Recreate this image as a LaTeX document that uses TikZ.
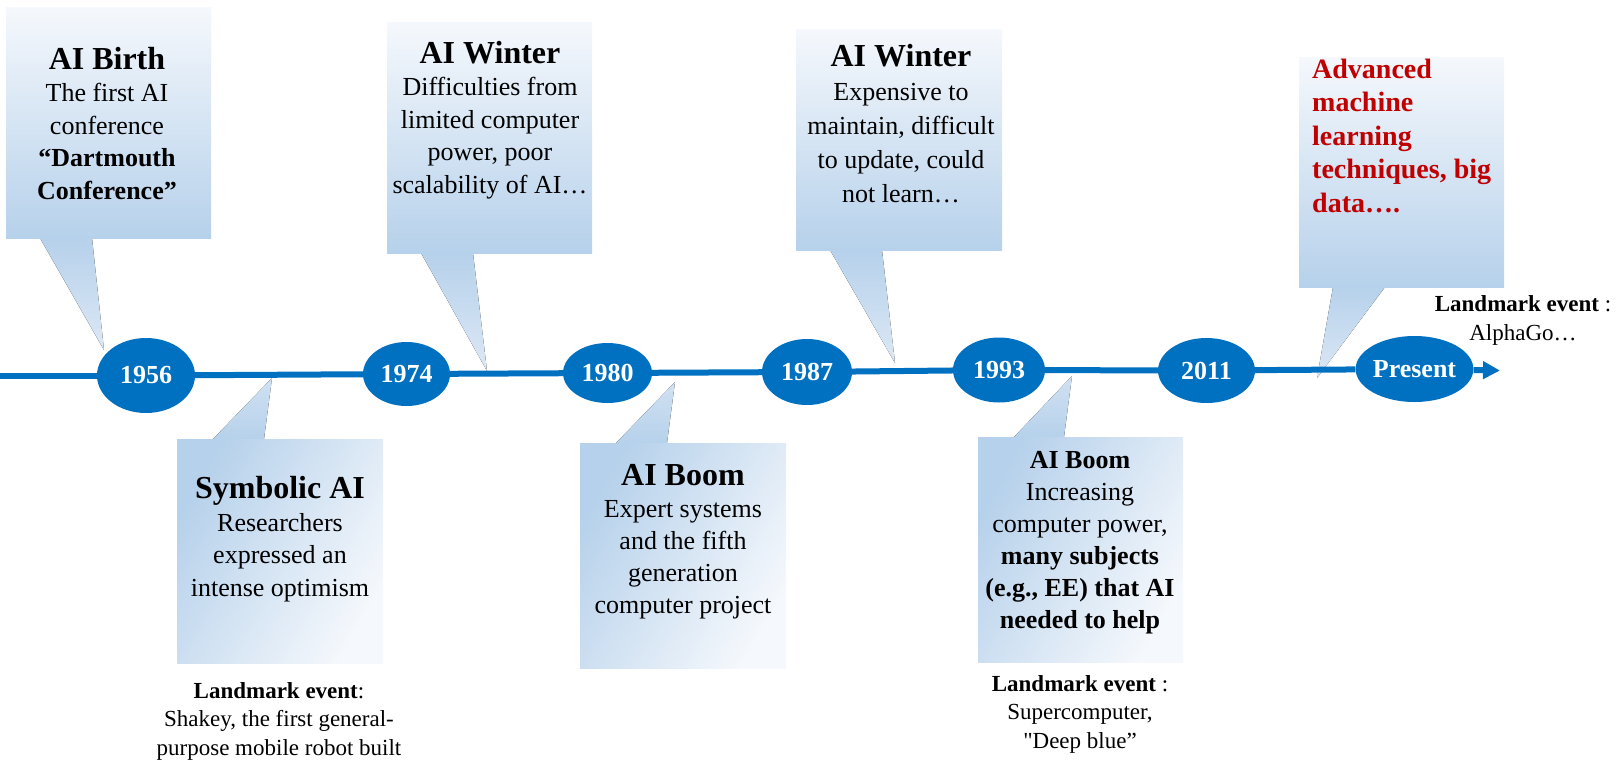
\documentclass[tikz,border=0pt]{standalone}
\usepackage{fontspec}
\setmainfont{Liberation Serif}[Ligatures=TeXOff]
\usetikzlibrary{shapes.geometric,arrows.meta}
\definecolor{tlblue}{HTML}{0070C0}
\definecolor{boxlight}{HTML}{F5F8FC}
\definecolor{boxblue}{HTML}{B6D1EB}
\definecolor{tiplight}{HTML}{DCE8F5}
\definecolor{advred}{HTML}{C00000}
\begin{document}
\begin{tikzpicture}[x=1pt,y=-1pt,
  year/.style={ellipse, fill=tlblue, inner sep=0pt, text=white,
    font=\fontsize{26}{30}\selectfont\bfseries},
  upbox/.style={top color=boxlight, bottom color=boxblue},
  uptail/.style={top color=boxblue, bottom color=tiplight},
  downbox/.style={top color=boxblue, bottom color=boxlight, shading angle=60},
  downtail/.style={top color=tiplight!70!boxblue, bottom color=boxblue},
  boxtext/.style={anchor=base, align=center, inner sep=0pt,
    font=\fontsize{26}{32.5}\selectfont},
  landmark/.style={anchor=base, align=center, inner sep=0pt,
    font=\fontsize{23}{28.5}\selectfont},
  tl/.style={line width=6pt, draw=tlblue}
]
\useasboundingbox (0,0) rectangle (1618,761);

% ---- callouts above the line ----
\fill[uptail] (40,238) -- (92,238) -- (104,350) -- cycle;
\fill[upbox] (6,7) rectangle (211,238);
\fill[uptail] (421,253) -- (473,253) -- (487,371) -- cycle;
\fill[upbox] (387,22) rectangle (592,253);
\fill[uptail] (830,250) -- (882,250) -- (895,363) -- cycle;
\fill[upbox] (796,29) rectangle (1002,250);
\fill[uptail] (1333,287) -- (1385,287) -- (1317,378) -- cycle;
\fill[upbox] (1299,57) rectangle (1504,287);

% ---- callouts below the line ----
\fill[downtail] (213,439) -- (264,439) -- (272,378) -- cycle;
\fill[downbox] (177,439) rectangle (383,663);
\fill[downtail] (616,443) -- (667,443) -- (675,382) -- cycle;
\fill[downbox] (580,443) rectangle (786,668);
\fill[downtail] (1014,437) -- (1064,437) -- (1072,376) -- cycle;
\fill[downbox] (978,437) rectangle (1183,662);

% ---- callout texts (anchored on the baseline of the last line) ----
\node[boxtext] (tbirth) at (107,199)
  {{\fontsize{32}{34}\selectfont\bfseries AI Birth}\\The first AI\\conference\\
   \bfseries “Dartmouth\\\bfseries Conference”};
\node[boxtext] (twinter1) at (490,193)
  {{\fontsize{32}{34}\selectfont\bfseries AI Winter}\\Difficulties from\\limited computer\\
   power, poor\\scalability of AI…};
\node[boxtext, font=\fontsize{26}{33.8}\selectfont] (twinter2) at (901,202)
  {{\fontsize{32}{34}\selectfont\bfseries AI Winter}\\Expensive to\\maintain, difficult\\
   to update, could\\not learn…};
\node[anchor=base west, align=left, inner sep=0pt, text=advred,
  font=\fontsize{28}{33.5}\selectfont\bfseries] (tadv) at (1312,212)
  {Advanced\\machine\\learning\\techniques, big\\data….};
\node[boxtext] (tsymb) at (280,596)
  {{\fontsize{32}{34}\selectfont\bfseries Symbolic AI}\\Researchers\\expressed an\\intense optimism};
\node[boxtext, font=\fontsize{26}{32}\selectfont] (tboom1) at (683,613)
  {{\fontsize{32}{34}\selectfont\bfseries AI Boom}\\Expert systems\\and the fifth\\
   generation\\computer project};
\node[boxtext, font=\fontsize{26}{32}\selectfont] (tboom2) at (1080,628)
  {{\bfseries AI Boom}\\Increasing\\computer power,\\\bfseries many subjects\\
   \bfseries (e.g., EE) that AI\\\bfseries needed to help};

% ---- landmark events ----
\node[landmark] (lm1) at (279,755)
  {{\bfseries Landmark event}:\\Shakey, the first general-\\purpose mobile robot built};
\node[landmark] (lm2) at (1080,748)
  {{\bfseries Landmark event} :\\Supercomputer,\\"Deep blue”};
\node[landmark] (lm3) at (1523,340)
  {{\bfseries Landmark event} :\\AlphaGo…};

% ---- timeline ----
\node[year, minimum width=98, minimum height=75] (y1956) at (146,375.5) {1956};
\node[year, minimum width=87, minimum height=64] (y1974) at (406.5,374) {1974};
\node[year, minimum width=89, minimum height=60] (y1980) at (607.5,373) {1980};
\node[year, minimum width=90, minimum height=66] (y1987) at (807,372) {1987};
\node[year, minimum width=92, minimum height=65] (y1993) at (999,370) {1993};
\node[year, minimum width=97, minimum height=65] (y2011) at (1206.5,370.5) {2011};
\node[year, minimum width=97, minimum height=66] (ypresent) at (1414.5,369) {Present};
\coordinate (lstart) at (0,375.5);
\coordinate (lend) at (1500,370.5);

\draw[tl] (lstart) -- (y1956);
\draw[tl] (y1956) -- (y1974);
\draw[tl] (y1974) -- (y1980);
\draw[tl] (y1980) -- (y1987);
\draw[tl] (y1987) -- (y1993);
\draw[tl] (y1993) -- (y2011);
\draw[tl] (y2011) -- (ypresent);
\draw[tl, -{Triangle[length=17pt,width=17pt]}] (ypresent) -- (lend);
\end{tikzpicture}
\end{document}
